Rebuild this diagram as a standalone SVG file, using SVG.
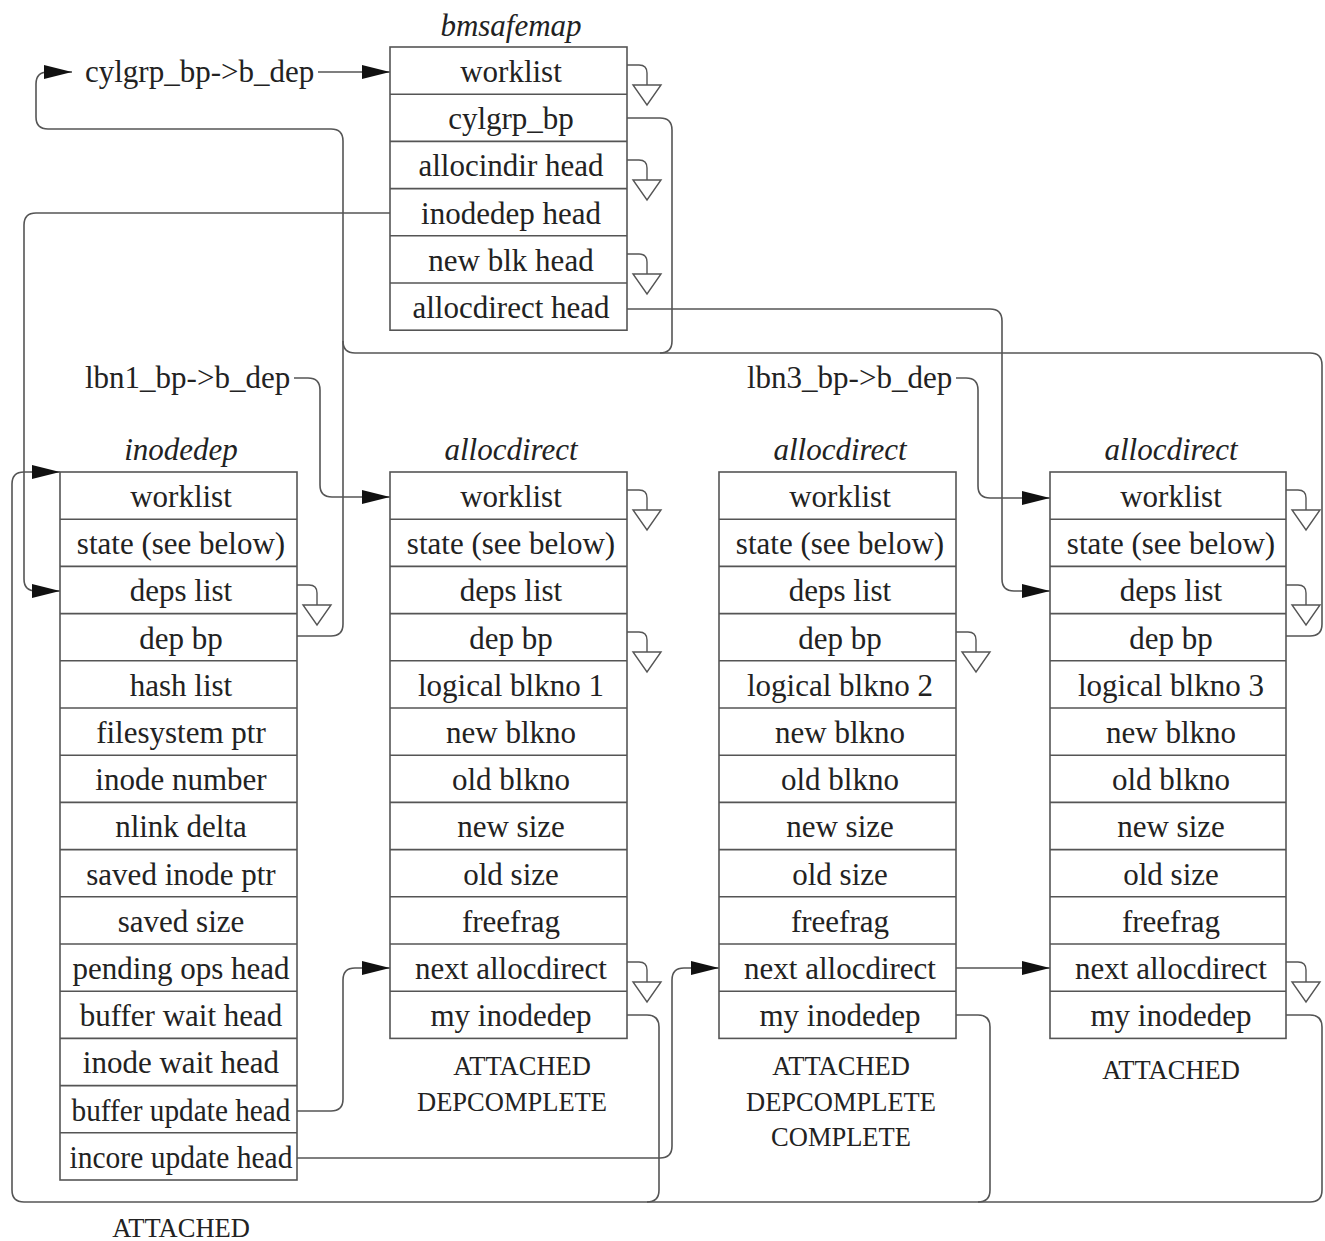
<svg xmlns="http://www.w3.org/2000/svg" xmlns:xlink="http://www.w3.org/1999/xlink" width="1325" height="1241" viewBox="0 0 1325 1241">
<style>
.box{fill:#fff;stroke:#555;stroke-width:1.6}
.sep{stroke:#555;stroke-width:1.6}
.row{font-family:"Liberation Serif","Times New Roman",serif;font-size:31px;fill:#222;text-anchor:middle}
.title{font-family:"Liberation Serif","Times New Roman",serif;font-size:31px;font-style:italic;fill:#222;text-anchor:middle}
.lbl{font-family:"Liberation Serif","Times New Roman",serif;font-size:31px;fill:#222}
.state{font-family:"Liberation Serif","Times New Roman",serif;font-size:26.5px;fill:#222;text-anchor:middle}
.wire{fill:none;stroke:#555;stroke-width:1.6}
.term{fill:none;stroke:#555;stroke-width:1.4}
</style>
<defs>
<marker id="ah" markerUnits="userSpaceOnUse" markerWidth="28" markerHeight="14" refX="28" refY="7" orient="auto">
<path d="M0,0 L28,7 L0,14 z" fill="#111"/>
</marker>
<g id="null">
<path class="term" d="M0,0 H12 Q20,0 20,8 V20"/>
<path class="term" d="M6,20 H34 L20,40 z" fill="#fff"/>
</g>
</defs>
<rect width="1325" height="1241" fill="#fff"/>

<g id="connectors">
<path class="wire" d="M297,636 H331 Q343,636 343,624 V141 Q343,129 331,129 H48 Q36,129 36,117 V84 Q36,72 48,72 H72" marker-end="url(#ah)"/>
<path class="wire" d="M318,72 H390" marker-end="url(#ah)"/>
<path class="wire" d="M627,118 H660 Q672,118 672,130 V341 Q672,353 660,353 H355 Q343,353 343,341"/>
<path class="wire" d="M1286,636 H1310 Q1322,636 1322,624 V365 Q1322,353 1310,353 H660"/>
<path class="wire" d="M627,309 H990 Q1002,309 1002,321 V579 Q1002,591 1014,591 H1050" marker-end="url(#ah)"/>
<path class="wire" d="M390,213 H36 Q24,213 24,225 V579 Q24,591 36,591 H60" marker-end="url(#ah)"/>
<path class="wire" d="M294,378 H308 Q320,378 320,390 V485 Q320,497 332,497 H390" marker-end="url(#ah)"/>
<path class="wire" d="M956,378 H966 Q978,378 978,390 V486 Q978,498 990,498 H1050" marker-end="url(#ah)"/>
<path class="wire" d="M627,1015 H647 Q659,1015 659,1027 V1190 Q659,1202 647,1202 H24 Q12,1202 12,1190 V484 Q12,472 24,472 H60" marker-end="url(#ah)"/>
<path class="wire" d="M956,1015 H978 Q990,1015 990,1027 V1190 Q990,1202 978,1202 H647"/>
<path class="wire" d="M1286,1015 H1310 Q1322,1015 1322,1027 V1190 Q1322,1202 1310,1202 H978"/>
<path class="wire" d="M297,1111 H331 Q343,1111 343,1099 V980 Q343,968 355,968 H390" marker-end="url(#ah)"/>
<path class="wire" d="M297,1158 H660 Q672,1158 672,1146 V980 Q672,968 684,968 H719" marker-end="url(#ah)"/>
<path class="wire" d="M956,968 H1050" marker-end="url(#ah)"/>
<use xlink:href="#null" x="627" y="65"/>
<use xlink:href="#null" x="627" y="160"/>
<use xlink:href="#null" x="627" y="254"/>
<use xlink:href="#null" x="297" y="585"/>
<use xlink:href="#null" x="627" y="490"/>
<use xlink:href="#null" x="627" y="632"/>
<use xlink:href="#null" x="627" y="962"/>
<use xlink:href="#null" x="956" y="632"/>
<use xlink:href="#null" x="1286" y="490"/>
<use xlink:href="#null" x="1286" y="585"/>
<use xlink:href="#null" x="1286" y="962"/>
<text class="lbl" x="85" y="82">cylgrp_bp-&gt;b_dep</text>
<text class="lbl" x="85" y="388">lbn1_bp-&gt;b_dep</text>
<text class="lbl" x="747" y="388">lbn3_bp-&gt;b_dep</text>
</g>

<g id="bmsafemap" transform="translate(390,47)">
<text class="title" x="121" y="-11">bmsafemap</text>
<rect class="box" x="0" y="0" width="237" height="283.2"/>
<path class="sep" d="M0,47.2 H237 M0,94.4 H237 M0,141.6 H237 M0,188.8 H237 M0,236 H237"/>
<text class="row" x="121" y="35">worklist</text>
<text class="row" x="121" y="82.2">cylgrp_bp</text>
<text class="row" x="121" y="129.4">allocindir head</text>
<text class="row" x="121" y="176.6">inodedep head</text>
<text class="row" x="121" y="223.8">new blk head</text>
<text class="row" x="121" y="271">allocdirect head</text>
</g>

<g id="inodedep" transform="translate(60,472)">
<text class="title" x="121" y="-12">inodedep</text>
<rect class="box" x="0" y="0" width="237" height="708"/>
<path class="sep" d="M0,47.2 H237 M0,94.4 H237 M0,141.6 H237 M0,188.8 H237 M0,236 H237 M0,283.2 H237 M0,330.4 H237 M0,377.6 H237 M0,424.8 H237 M0,472 H237 M0,519.2 H237 M0,566.4 H237 M0,613.6 H237 M0,660.8 H237"/>
<text class="row" x="121" y="35">worklist</text>
<text class="row" x="121" y="82.2">state (see below)</text>
<text class="row" x="121" y="129.4">deps list</text>
<text class="row" x="121" y="176.6">dep bp</text>
<text class="row" x="121" y="223.8">hash list</text>
<text class="row" x="121" y="271">filesystem ptr</text>
<text class="row" x="121" y="318.2">inode number</text>
<text class="row" x="121" y="365.4">nlink delta</text>
<text class="row" x="121" y="412.6">saved inode ptr</text>
<text class="row" x="121" y="459.8">saved size</text>
<text class="row" x="121" y="507">pending ops head</text>
<text class="row" x="121" y="554.2">buffer wait head</text>
<text class="row" x="121" y="601.4">inode wait head</text>
<text class="row" x="121" y="648.6" textLength="219" lengthAdjust="spacingAndGlyphs">buffer update head</text>
<text class="row" x="121" y="695.8" textLength="223" lengthAdjust="spacingAndGlyphs">incore update head</text>
<text class="state" x="121" y="765">ATTACHED</text>
</g>

<g id="allocdirect1" transform="translate(390,472)">
<text class="title" x="121" y="-12">allocdirect</text>
<rect class="box" x="0" y="0" width="237" height="566.4"/>
<path class="sep" d="M0,47.2 H237 M0,94.4 H237 M0,141.6 H237 M0,188.8 H237 M0,236 H237 M0,283.2 H237 M0,330.4 H237 M0,377.6 H237 M0,424.8 H237 M0,472 H237 M0,519.2 H237"/>
<text class="row" x="121" y="35">worklist</text>
<text class="row" x="121" y="82.2">state (see below)</text>
<text class="row" x="121" y="129.4">deps list</text>
<text class="row" x="121" y="176.6">dep bp</text>
<text class="row" x="121" y="223.8">logical blkno 1</text>
<text class="row" x="121" y="271">new blkno</text>
<text class="row" x="121" y="318.2">old blkno</text>
<text class="row" x="121" y="365.4">new size</text>
<text class="row" x="121" y="412.6">old size</text>
<text class="row" x="121" y="459.8">freefrag</text>
<text class="row" x="121" y="507">next allocdirect</text>
<text class="row" x="121" y="554.2">my inodedep</text>
<text class="state" x="132" y="603">ATTACHED</text>
<text class="state" x="122" y="639">DEPCOMPLETE</text>
</g>

<g id="allocdirect2" transform="translate(719,472)">
<text class="title" x="121" y="-12">allocdirect</text>
<rect class="box" x="0" y="0" width="237" height="566.4"/>
<path class="sep" d="M0,47.2 H237 M0,94.4 H237 M0,141.6 H237 M0,188.8 H237 M0,236 H237 M0,283.2 H237 M0,330.4 H237 M0,377.6 H237 M0,424.8 H237 M0,472 H237 M0,519.2 H237"/>
<text class="row" x="121" y="35">worklist</text>
<text class="row" x="121" y="82.2">state (see below)</text>
<text class="row" x="121" y="129.4">deps list</text>
<text class="row" x="121" y="176.6">dep bp</text>
<text class="row" x="121" y="223.8">logical blkno 2</text>
<text class="row" x="121" y="271">new blkno</text>
<text class="row" x="121" y="318.2">old blkno</text>
<text class="row" x="121" y="365.4">new size</text>
<text class="row" x="121" y="412.6">old size</text>
<text class="row" x="121" y="459.8">freefrag</text>
<text class="row" x="121" y="507">next allocdirect</text>
<text class="row" x="121" y="554.2">my inodedep</text>
<text class="state" x="122" y="603">ATTACHED</text>
<text class="state" x="122" y="639">DEPCOMPLETE</text>
<text class="state" x="122" y="674">COMPLETE</text>
</g>

<g id="allocdirect3" transform="translate(1050,472)">
<text class="title" x="121" y="-12">allocdirect</text>
<rect class="box" x="0" y="0" width="236" height="566.4"/>
<path class="sep" d="M0,47.2 H236 M0,94.4 H236 M0,141.6 H236 M0,188.8 H236 M0,236 H236 M0,283.2 H236 M0,330.4 H236 M0,377.6 H236 M0,424.8 H236 M0,472 H236 M0,519.2 H236"/>
<text class="row" x="121" y="35">worklist</text>
<text class="row" x="121" y="82.2">state (see below)</text>
<text class="row" x="121" y="129.4">deps list</text>
<text class="row" x="121" y="176.6">dep bp</text>
<text class="row" x="121" y="223.8">logical blkno 3</text>
<text class="row" x="121" y="271">new blkno</text>
<text class="row" x="121" y="318.2">old blkno</text>
<text class="row" x="121" y="365.4">new size</text>
<text class="row" x="121" y="412.6">old size</text>
<text class="row" x="121" y="459.8">freefrag</text>
<text class="row" x="121" y="507">next allocdirect</text>
<text class="row" x="121" y="554.2">my inodedep</text>
<text class="state" x="121" y="607">ATTACHED</text>
</g>
</svg>
